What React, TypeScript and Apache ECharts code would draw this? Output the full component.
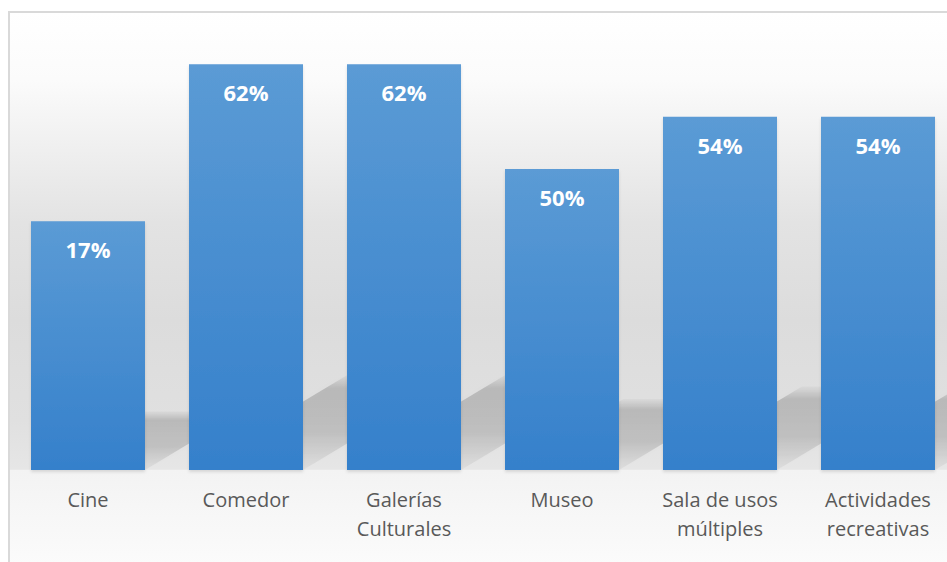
import React, { useEffect, useRef } from "react";
import * as echarts from "echarts";

const categories = [
  "Cine",
  "Comedor",
  "Galerías\nCulturales",
  "Museo",
  "Sala de usos\nmúltiples",
  "Actividades\nrecreativas",
];
const barHeights = [38, 62, 62, 46, 54, 54];
const valueLabels = ["17%", "62%", "62%", "50%", "54%", "54%"];

export default function App() {
  const ref = useRef<HTMLDivElement>(null);
  useEffect(() => {
    const chart = echarts.init(ref.current!, null, { renderer: "svg" });
    const bgGrad = new echarts.graphic.LinearGradient(0, 0, 0, 1, [
      { offset: 0, color: "#ffffff" },
      { offset: 0.113, color: "#fbfbfb" },
      { offset: 0.23, color: "#efefef" },
      { offset: 0.35, color: "#e3e3e3" },
      { offset: 0.513, color: "#dcdcdc" },
      { offset: 0.68, color: "#e0e0e0" },
      { offset: 0.762, color: "#e6e6e6" },
      { offset: 0.764, color: "#f3f3f3" },
      { offset: 1, color: "#ffffff" },
    ]);
    chart.setOption({
      animation: false,
      graphic: [
        {
          type: "rect",
          z: -10,
          shape: { x: 9, y: 12, width: 980, height: 600 },
          style: { fill: bgGrad, stroke: "#d9d9d9", lineWidth: 2 },
        },
      ],
      grid: { left: 9, top: 12, width: 948, height: 458 },
      xAxis: {
        type: "category",
        data: categories,
        axisLine: { show: false },
        axisTick: { show: false },
        axisLabel: {
          interval: 0,
          color: "#595959",
          fontSize: 20,
          fontFamily: "Open Sans",
          lineHeight: 29,
          margin: 15,
          verticalAlign: "top",
        },
      },
      yAxis: {
        type: "value",
        min: 0,
        max: 70,
        show: false,
        splitLine: { show: false },
      },
      series: [
        {
          type: "custom",
          z: 1,
          silent: true,
          data: barHeights.map((v, i) => [i, v]),
          renderItem: (params: any, api: any) => {
            const i = api.value(0);
            const v = api.value(1);
            const top = api.coord([i, v]);
            const base = api.coord([i, 0]);
            const h = base[1] - top[1];
            const dy = h * 0.236;
            const dx = dy / 0.6;
            const x0 = top[0] - 57;
            const x1 = top[0] + 57;
            const b = base[1];
            return {
              type: "polygon",
              shape: {
                points: [
                  [x0, b],
                  [x1, b],
                  [x1 + dx, b - dy],
                  [x0 + dx, b - dy],
                ],
              },
              style: {
                fill: new echarts.graphic.LinearGradient(0, 0, 0, 1, [
                  { offset: 0, color: "rgba(0,0,0,0.02)" },
                  { offset: 0.15, color: "rgba(0,0,0,0.16)" },
                  { offset: 0.6, color: "rgba(0,0,0,0.14)" },
                  { offset: 1, color: "rgba(0,0,0,0.03)" },
                ]),
                shadowBlur: 6,
                shadowColor: "rgba(0,0,0,0.08)",
              },
            };
          },
        },
        {
          type: "bar",
          z: 3,
          data: barHeights,
          barWidth: 114,
          itemStyle: {
            color: new echarts.graphic.LinearGradient(0, 0, 0, 1, [
              { offset: 0, color: "#5b9bd5" },
              { offset: 1, color: "#3580cb" },
            ]),
            shadowColor: "rgba(0,0,0,0.12)",
            shadowBlur: 3,
            shadowOffsetY: 2,
          },
          label: {
            show: true,
            position: "insideTop",
            distance: 17,
            color: "#ffffff",
            fontSize: 22,
            fontWeight: "bold",
            fontFamily: "Open Sans",
            formatter: (p: any) => valueLabels[p.dataIndex],
          },
        },
      ],
    });
    return () => chart.dispose();
  }, []);
  return (
    <div
      style={{
        position: "fixed",
        left: 0,
        top: 0,
        width: 947,
        height: 562,
        overflow: "hidden",
        background: "#ffffff",
      }}
    >
      <div ref={ref} style={{ width: 990, height: 620 }} />
    </div>
  );
}
